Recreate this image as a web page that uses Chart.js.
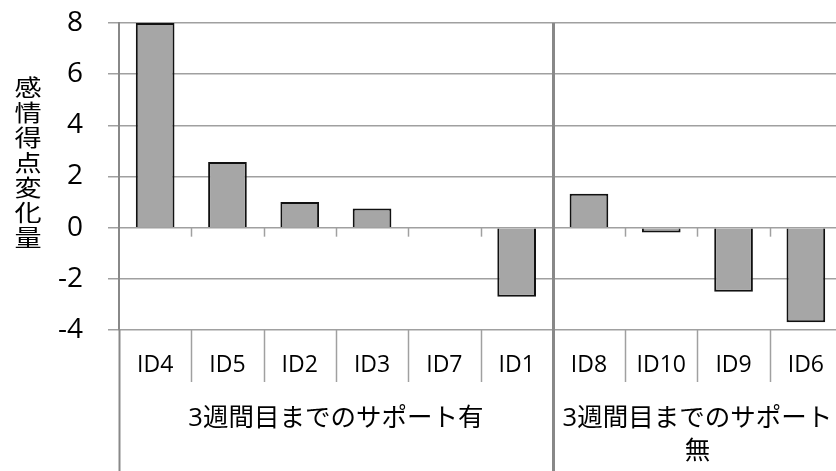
<!DOCTYPE html>
<html>
<head>
<meta charset="utf-8">
<script src="https://cdn.jsdelivr.net/npm/chart.js@4.4.1/dist/chart.umd.min.js"></script>
<style>
  html, body { margin: 0; padding: 0; background: #fff; overflow: hidden; width: 836px; height: 471px; }
  canvas { display: block; }
</style>
</head>
<body>
<canvas id="c" width="846" height="471"></canvas>
<script>
// Participants, ordered within each support group
const categories = ['ID4', 'ID5', 'ID2', 'ID3', 'ID7', 'ID1', 'ID8', 'ID10', 'ID9', 'ID6'];
// Change in emotion score per participant
const values = [8, 2.57, 1.0, 0.75, 0, -2.7, 1.33, -0.19, -2.5, -3.7];
// Outer category level
const groupNames = ['3週間目までのサポート有', '3週間目までのサポート無'];
const groupSizes = [6, 4];
// Value axis
const yMin = -4, yMax = 8, yStep = 2;
const yTitle = '感情得点変化量';

const LATIN = "'Open Sans', 'Noto Sans CJK JP', sans-serif";
const CJK = "'Noto Sans CJK JP', sans-serif";
const GRID = '#a0a0a0';
const AXIS = '#888888';

// Draws the two-level category axis, dividers and the stacked y title
const groupAxis = {
  id: 'groupAxis',
  afterDraw(chart) {
    const { ctx, chartArea: a, scales: { x, y } } = chart;
    const H = chart.height;
    const n = categories.length;
    const step = x.getPixelForValue(1) - x.getPixelForValue(0);
    const edge = i => x.getPixelForValue(i) - step / 2;
    const y0 = y.getPixelForValue(0);

    const boundaries = [0];
    groupSizes.forEach(s => boundaries.push(boundaries[boundaries.length - 1] + s));

    ctx.save();
    // inner dividers between category labels, and small ticks on the zero line
    ctx.strokeStyle = GRID;
    ctx.lineWidth = 1.5;
    for (let i = 1; i < n; i++) {
      const px = Math.round(edge(i)) + 0.5;
      ctx.beginPath();
      ctx.moveTo(px, y0);
      ctx.lineTo(px, y0 + 9);
      ctx.stroke();
      if (!boundaries.includes(i)) {
        ctx.beginPath();
        ctx.moveTo(px, a.bottom);
        ctx.lineTo(px, a.bottom + 52);
        ctx.stroke();
      }
    }
    // group separators run through the plot and the label band
    ctx.strokeStyle = AXIS;
    boundaries.forEach((b, k) => {
      if (b >= n) return;
      const px = Math.round(edge(b)) + 0.5;
      ctx.lineWidth = k === 0 ? 2 : 3;
      ctx.beginPath();
      ctx.moveTo(px, k === 0 ? a.bottom : a.top);
      ctx.lineTo(px, H);
      ctx.stroke();
    });

    // group labels, wrapped to their span
    ctx.fillStyle = '#000';
    ctx.font = '25.5px ' + LATIN;
    ctx.textAlign = 'center';
    ctx.textBaseline = 'middle';
    groupNames.forEach((name, k) => {
      const left = edge(boundaries[k]);
      const right = edge(boundaries[k + 1]);
      const maxW = right - left - 10;
      const lines = [];
      let cur = '';
      for (const ch of name) {
        if (cur && ctx.measureText(cur + ch).width > maxW) { lines.push(cur); cur = ch; }
        else cur += ch;
      }
      if (cur) lines.push(cur);
      lines.forEach((ln, j) => ctx.fillText(ln, (left + right) / 2, a.bottom + 89 + j * 33));
    });

    // vertical stacked y title (glyphs slightly widened)
    ctx.font = '23px ' + CJK;
    [...yTitle].forEach((ch, j) => {
      ctx.save();
      ctx.translate(28, 87 + j * 25);
      ctx.scale(1.18, 1);
      ctx.fillText(ch, 0, 0);
      ctx.restore();
    });
    ctx.restore();
  }
};

function build() {
  new Chart(document.getElementById('c'), {
    type: 'bar',
    data: {
      labels: categories,
      datasets: [{
        data: values,
        backgroundColor: '#a6a6a6',
        borderColor: '#111111',
        borderWidth: 2,
        barPercentage: 0.535,
        categoryPercentage: 1
      }]
    },
    options: {
      responsive: false,
      animation: false,
      events: [],
      layout: { padding: { left: 0, top: 23, right: 4, bottom: 0 } },
      plugins: { legend: { display: false }, tooltip: { enabled: false }, title: { display: false } },
      scales: {
        x: {
          offset: true,
          grid: { display: false },
          border: { display: false },
          ticks: { color: '#000', font: { family: LATIN, size: 23 }, padding: 14, maxRotation: 0, autoSkip: false },
          afterFit: s => { s.height = 141; s.paddingLeft = 0; s.paddingRight = 0; }
        },
        y: {
          min: yMin,
          max: yMax,
          ticks: { stepSize: yStep, color: '#000', font: { family: LATIN, size: 28 }, padding: 25 },
          grid: { color: GRID, lineWidth: 1.5, tickLength: 11, tickColor: GRID },
          border: { display: true, color: AXIS, width: 2 },
          afterFit: s => { s.width = 119; s.paddingTop = 0; s.paddingBottom = 0; }
        }
      }
    },
    plugins: [groupAxis]
  });
}

Promise.all([
  document.fonts.load('24px "Open Sans"'),
  document.fonts.load('24px "Noto Sans CJK JP"', '感情')
]).then(build, build);
</script>
</body>
</html>
